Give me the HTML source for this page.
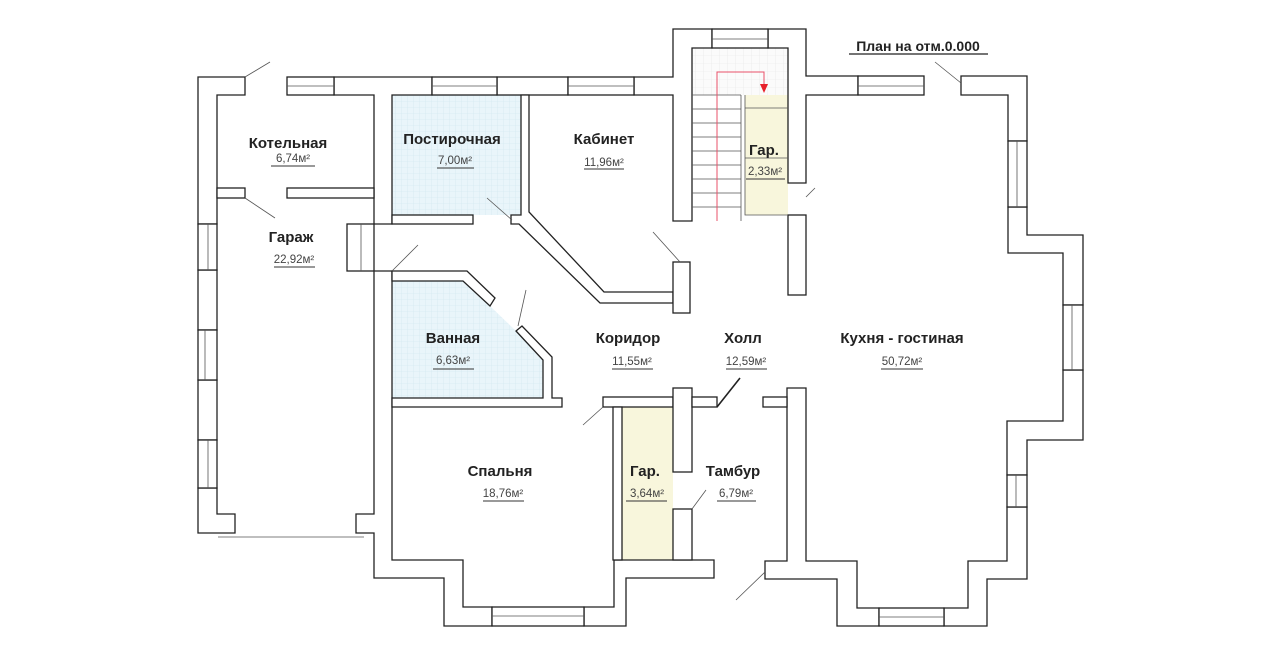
<!DOCTYPE html>
<html><head><meta charset="utf-8"><style>
html,body{margin:0;padding:0;background:#fff;}
svg{display:block;}
text{font-family:"Liberation Sans",sans-serif;}
.n{font-size:15px;font-weight:bold;fill:#222;text-anchor:middle;}
.a{font-size:11.5px;fill:#444;text-anchor:middle;}
</style></head><body>
<svg width="1280" height="656" viewBox="0 0 1280 656" xmlns="http://www.w3.org/2000/svg">
<defs>
<pattern id="g" width="6" height="6" patternUnits="userSpaceOnUse">
<rect width="6" height="6" fill="#e9f5fa"/>
<path d="M6 0V6M0 6H6" stroke="#cfe6ef" stroke-width="0.6" fill="none"/>
</pattern>
<pattern id="gs" width="8" height="8" patternUnits="userSpaceOnUse">
<rect width="8" height="8" fill="#fbfbfb"/>
<path d="M8 0V8M0 8H8" stroke="#e6e6e6" stroke-width="0.6" fill="none"/>
</pattern>
</defs>
<!-- floor fills -->
<rect x="392" y="95" width="129" height="120" fill="url(#g)"/>
<polygon points="392,281 463,281 490,306 516,331 543,360 543,398 392,398" fill="url(#g)"/>
<rect x="692" y="48" width="96" height="47" fill="url(#gs)"/>
<rect x="745" y="95" width="43" height="120" fill="#f8f6dc"/>
<rect x="622" y="407" width="51" height="153" fill="#f8f6dc"/>

<g fill="#fff" stroke="#222" stroke-width="1.3">
<!-- left outer -->
<polygon points="198,77 245,77 245,95 217,95 217,224 198,224"/>
<rect x="198" y="270" width="19" height="60"/>
<rect x="198" y="380" width="19" height="60"/>
<polygon points="198,488 217,488 217,514 235,514 235,533 198,533"/>
<!-- top wall -->
<polygon points="334,77 432,77 432,95 392,95 392,224 374,224 374,95 334,95"/>
<rect x="497" y="77" width="71" height="18"/>
<polygon points="634,77 673,77 673,29 712,29 712,48 692,48 692,221 673,221 673,95 634,95"/>
<polygon points="768,29 806,29 806,76 858,76 858,95 806,95 806,183 788,183 788,48 768,48"/>
<polygon points="961,76 1027,76 1027,141 1008,141 1008,95 961,95"/>
<polygon points="1008,207 1027,207 1027,235 1083,235 1083,305 1063,305 1063,253 1008,253"/>
<polygon points="1007,475 1027,475 1027,440 1083,440 1083,370 1063,370 1063,421 1007,421"/>
<polygon points="944,608 968,608 968,561 1007,561 1007,507 1027,507 1027,579 987,579 987,626 944,626"/>
<polygon points="787,388 806,388 806,561 857,561 857,608 879,608 879,626 837,626 837,579 765,579 765,561 787,561"/>
<rect x="763" y="397" width="24" height="10"/>
<!-- partitions -->
<rect x="217" y="188" width="28" height="10"/>
<rect x="287" y="188" width="87" height="10"/>
<rect x="392" y="215" width="81" height="9"/>
<rect x="347" y="224" width="27" height="47"/>
<polygon points="521,95 529,95 529,212 604,292 673,292 673,303 600,303 519,224 511,224 511,215 521,215"/>
<rect x="673" y="262" width="17" height="51"/>
<rect x="788" y="215" width="18" height="80"/>
<!-- center left long wall -->
<polygon points="374,271 392,271 392,560 463,560 463,607 492,607 492,626 444,626 444,578 374,578 374,533 356,533 356,514 374,514"/>
<polygon points="584,607 614,607 614,560 714,560 714,578 626,578 626,626 584,626"/>
<polygon points="392,271 467,271 495,298 490,306 463,281 392,281"/>
<polygon points="516,331 522,326 552,357 552,398 562,398 562,407 392,407 392,398 543,398 543,360"/>
<rect x="603" y="397" width="70" height="10"/>
<rect x="613" y="407" width="9" height="153"/>
<rect x="673" y="388" width="19" height="84"/>
<rect x="692" y="397" width="25" height="10"/>
<rect x="673" y="509" width="19" height="51"/>
<!-- windows -->
<rect x="198" y="224" width="19" height="46"/>
<rect x="198" y="330" width="19" height="50"/>
<rect x="198" y="440" width="19" height="48"/>
<rect x="287" y="77" width="47" height="18"/>
<rect x="432" y="77" width="65" height="18"/>
<rect x="568" y="77" width="66" height="18"/>
<rect x="712" y="29" width="56" height="19"/>
<rect x="858" y="76" width="66" height="19"/>
<rect x="1008" y="141" width="19" height="66"/>
<rect x="1063" y="305" width="20" height="65"/>
<rect x="1007" y="475" width="20" height="32"/>
<rect x="879" y="608" width="65" height="18"/>
<rect x="492" y="607" width="92" height="19"/>
</g>
<g stroke="#555" stroke-width="0.8" fill="none">
<path d="M208 224V270M205 330V380M208 440V488M287 86H334M432 86H497M568 86H634M712 39H768M858 86H924M1017 141V207M1072 305V370M1016 475V507M879 617H944M492 616H584"/>
<path d="M361 224V271"/>
<!-- stairs -->
<path d="M741 95V221M692 95H741"/>
<path d="M692 109H741M692 123H741M692 137H741M692 151H741M692 165H741M692 179H741M692 193H741M692 207H741"/>
<path d="M745 95V215H788M745 108H788M745 158H788"/>
<!-- door swings -->
<path d="M245 77L270 62M245 198L275 218M392 271L418 245M487 198L512 220M653 232L680 262M806 197L815 188M961 83L935 62M518 326L526 290M603 407L583 425M692 509L706 490M765 572L736 600M218 537H364"/>
</g>
<path d="M717 407L740 378" stroke="#222" stroke-width="1.6"/>
<path d="M717 221V72H764V86" stroke="#e8506a" stroke-width="1" fill="none"/>
<polygon points="760,84 768,84 764,93" fill="#e8202a"/>

<text class="n" x="918" y="51" style="font-size:14px">План на отм.0.000</text>
<line x1="849" y1="54" x2="988" y2="54" stroke="#222" stroke-width="1.2"/>

<g>
<text class="n" x="288" y="148">Котельная</text><text class="a" x="293" y="162">6,74м²</text>
<text class="n" x="452" y="144">Постирочная</text><text class="a" x="455" y="164">7,00м²</text>
<text class="n" x="604" y="144">Кабинет</text><text class="a" x="604" y="166">11,96м²</text>
<text class="n" x="291" y="242">Гараж</text><text class="a" x="294" y="263">22,92м²</text>
<text class="n" x="764" y="155">Гар.</text><text class="a" x="765" y="175">2,33м²</text>
<text class="n" x="453" y="343">Ванная</text><text class="a" x="453" y="364">6,63м²</text>
<text class="n" x="628" y="343">Коридор</text><text class="a" x="632" y="365">11,55м²</text>
<text class="n" x="743" y="343">Холл</text><text class="a" x="746" y="365">12,59м²</text>
<text class="n" x="902" y="343">Кухня - гостиная</text><text class="a" x="902" y="365">50,72м²</text>
<text class="n" x="500" y="476">Спальня</text><text class="a" x="503" y="497">18,76м²</text>
<text class="n" x="645" y="476">Гар.</text><text class="a" x="647" y="497">3,64м²</text>
<text class="n" x="733" y="476">Тамбур</text><text class="a" x="736" y="497">6,79м²</text>
</g>
<g stroke="#333" stroke-width="1">
<path d="M271 166H315M437 168H474M584 169H624M274 267H315M746 179H785M433 369H474M612 369H653M726 369H767M881 369H923M483 501H524M626 501H667M717 501H756"/>
</g>
</svg>
</body></html>
